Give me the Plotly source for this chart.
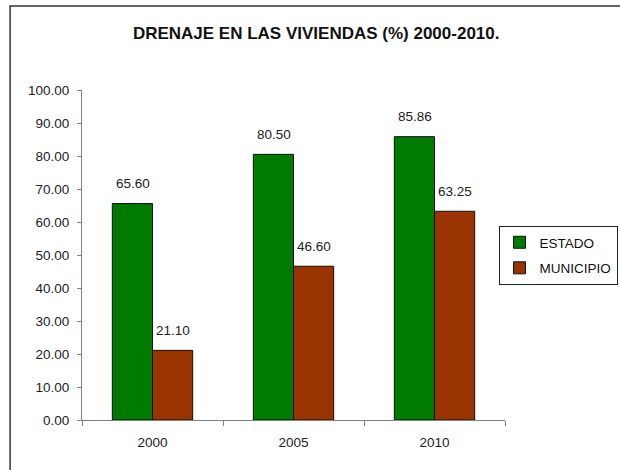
import plotly.graph_objects as go

categories = ["2000", "2005", "2010"]
estado = [65.60, 80.50, 85.86]
municipio = [21.10, 46.60, 63.25]
series_names = ["ESTADO", "MUNICIPIO"]
colors = ["#007A00", "#993300"]

FONT = "Liberation Sans, Arial"
fig = go.Figure()
for name, vals, col in zip(series_names, [estado, municipio], colors):
    fig.add_trace(go.Bar(
        x=categories, y=vals, name=name, legendgroup=name,
        marker=dict(color=col, line=dict(color="#111111", width=1)),
    ))

# data labels (x given as category index)
for vals, shift in zip([estado, municipio], [-20, 20]):
    for i, v in enumerate(vals):
        fig.add_annotation(x=i, y=v, text=f"{v:.2f}", showarrow=False,
                           xref="x", yref="y",
                           xshift=shift, yshift=20, yanchor="middle",
                           font=dict(family=FONT, size=13.5, color="#222222"))

fig.update_layout(
    width=620, height=470,
    margin=dict(l=82, r=115, t=90, b=50, autoexpand=False),
    paper_bgcolor="white", plot_bgcolor="white",
    barmode="group", bargap=0.43, bargroupgap=0,
    font=dict(family=FONT, size=13.5, color="#222222"),
    title=dict(text="<b>DRENAJE EN LAS VIVIENDAS (%) 2000-2010.</b>",
               x=0.51, xanchor="center", xref="container",
               y=0.93, yanchor="middle", yref="container",
               font=dict(size=17, color="#111111")),
    showlegend=True,
    legend=dict(x=0.996, y=1 - 226 / 470, xanchor="right", yanchor="top",
                xref="container", yref="container",
                bordercolor="#222222", borderwidth=1,
                font=dict(size=13.5, color="#111111"),
                tracegroupgap=5),
)
fig.update_yaxes(range=[0, 100], dtick=10, tickformat=".2f",
                 showgrid=False, showline=True, linecolor="#808080", linewidth=1,
                 ticks="outside", ticklen=4, tickcolor="#808080", zeroline=False,
                 ticklabelstandoff=5)
fig.update_xaxes(type="category", range=[-0.5, 2.5], showgrid=False, showline=True,
                 linecolor="#808080", linewidth=1,
                 ticks="outside", ticklen=5, tickcolor="#808080",
                 tickson="boundaries", ticklabelstandoff=10)

fig.add_shape(type="rect", xref="paper", yref="paper",
              x0=-0.170, x1=1.3, y0=-0.2, y1=1.2545,
              line=dict(color="#333333", width=1.5), fillcolor="rgba(0,0,0,0)", layer="below")

fig.write_html("out.html", config={"displayModeBar": False},
               post_script="document.body.style.margin='0px';")
